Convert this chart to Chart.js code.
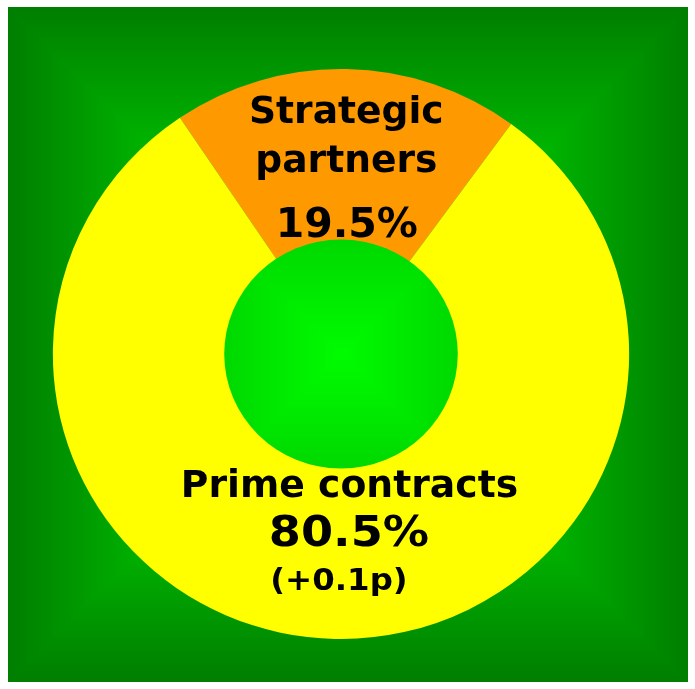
<!DOCTYPE html>
<html><head><meta charset="utf-8">
<script src="https://cdn.jsdelivr.net/npm/chart.js@4"></script>
<style>html,body{margin:0;padding:0;background:#fff;overflow:hidden}canvas{display:block}</style>
</head><body><canvas id="c" width="695" height="689"></canvas>
<script>
// ---- data ----
const categories = ['Strategic partners', 'Prime contracts'];
const shares = [19.5, 80.5];
const changeNotes = ['', '(+0.1p)'];
const labelLines = [['Strategic', 'partners'], ['Prime contracts']];

// ---- styles ----
const sliceColors = ['#ff9900', '#ffff00'];
const FONT = '"DejaVu Sans", sans-serif';
const RING_STRETCH_X = 1.011;
const HOLE_STRETCH_X = 1.02;
// per-slice label layout: offsets relative to the slice's mid point
const labelStyle = [
  { names: [{dx: 1.5, dy: -31.8, size: 38, sx: 0.99}, {dx: 1.5, dy: 17.2, size: 38, sx: 0.99}],
    value: {dx: 2, dy: 82.2, size: 41, sx: 1.0}, note: null },
  { names: [{dx: 12.3, dy: -56.8, size: 37, sx: 1.02}],
    value: {dx: 11.8, dy: -7.5, size: 42, sx: 1.1},
    note: {dx: 1.8, dy: 36.8, size: 30, sx: 1.08} }
];

function rectGradient(w, h, edge, center) {
  const cv = document.createElement('canvas');
  cv.width = w; cv.height = h;
  const c = cv.getContext('2d');
  const img = c.createImageData(w, h);
  const hw = w / 2, hh = h / 2;
  for (let y = 0; y < h; y++) {
    for (let x = 0; x < w; x++) {
      const t = Math.max(Math.abs(x + 0.5 - hw) / hw, Math.abs(y + 0.5 - hh) / hh);
      const g = Math.min(255, Math.round(edge + (center - edge) * (1 - t)));
      const i = (y * w + x) * 4;
      img.data[i] = 0; img.data[i + 1] = g; img.data[i + 2] = 0; img.data[i + 3] = 255;
    }
  }
  c.putImageData(img, 0, 0);
  return cv;
}
const bgImg = rectGradient(680, 675, 126, 256);
const holeImg = rectGradient(240, 240, 0xd8, 0xfc);

const decor = {
  id: 'decor',
  beforeDraw(chart) {
    const ctx = chart.ctx;
    ctx.save();
    ctx.fillStyle = '#ffffff';
    ctx.fillRect(0, 0, chart.width, chart.height);
    ctx.drawImage(bgImg, 8, 7);
    ctx.restore();
  },
  beforeDatasetsDraw(chart) {
    const ctx = chart.ctx;
    const arc = chart.getDatasetMeta(0).data[0];
    ctx.save();
    ctx.translate(arc.x, 0);
    ctx.scale(RING_STRETCH_X, 1);
    ctx.translate(-arc.x, 0);
  },
  afterDatasetsDraw(chart) {
    const ctx = chart.ctx;
    ctx.restore();
    const arc = chart.getDatasetMeta(0).data[0];
    const {x, y, innerRadius} = arc.getProps(['x', 'y', 'innerRadius'], true);
    const rx = innerRadius * HOLE_STRETCH_X;
    ctx.save();
    ctx.beginPath();
    ctx.ellipse(x, y, rx + 0.5, innerRadius + 0.5, 0, 0, Math.PI * 2);
    ctx.clip();
    ctx.drawImage(holeImg, x - rx - 1, y - innerRadius - 1, rx * 2 + 2, innerRadius * 2 + 2);
    ctx.restore();
  },
  afterDraw(chart) {
    const ctx = chart.ctx;
    const meta = chart.getDatasetMeta(0);
    const put = (text, ax, ay, s) => {
      ctx.save();
      ctx.font = 'bold ' + s.size + 'px ' + FONT;
      ctx.fillStyle = '#000';
      ctx.textAlign = 'center';
      ctx.textBaseline = 'alphabetic';
      ctx.translate(ax + s.dx, ay + s.dy);
      ctx.scale(s.sx, 1);
      ctx.fillText(text, 0, 0);
      ctx.restore();
    };
    meta.data.forEach((arc, i) => {
      const p = arc.getProps(['x', 'y', 'startAngle', 'endAngle', 'innerRadius', 'outerRadius'], true);
      const mid = (p.startAngle + p.endAngle) / 2;
      const rm = (p.innerRadius + p.outerRadius) / 2;
      const ax = p.x + Math.cos(mid) * rm;
      const ay = p.y + Math.sin(mid) * rm;
      const st = labelStyle[i];
      labelLines[i].forEach((line, k) => put(line, ax, ay, st.names[k]));
      put(shares[i].toFixed(1) + '%', ax, ay, st.value);
      if (changeNotes[i] && st.note) put(changeNotes[i], ax, ay, st.note);
    });
  }
};

new Chart(document.getElementById('c'), {
  type: 'doughnut',
  data: {
    labels: categories,
    datasets: [{
      data: shares,
      backgroundColor: sliceColors,
      borderWidth: 0,
      hoverOffset: 0,
      offset: 0
    }]
  },
  options: {
    responsive: false,
    animation: false,
    cutout: '40%',
    rotation: -34,
    layout: { padding: { left: 56, right: 69, top: 69, bottom: 50 } },
    plugins: { legend: { display: false }, tooltip: { enabled: false } },
    events: []
  },
  plugins: [decor]
});
</script>
</body></html>
